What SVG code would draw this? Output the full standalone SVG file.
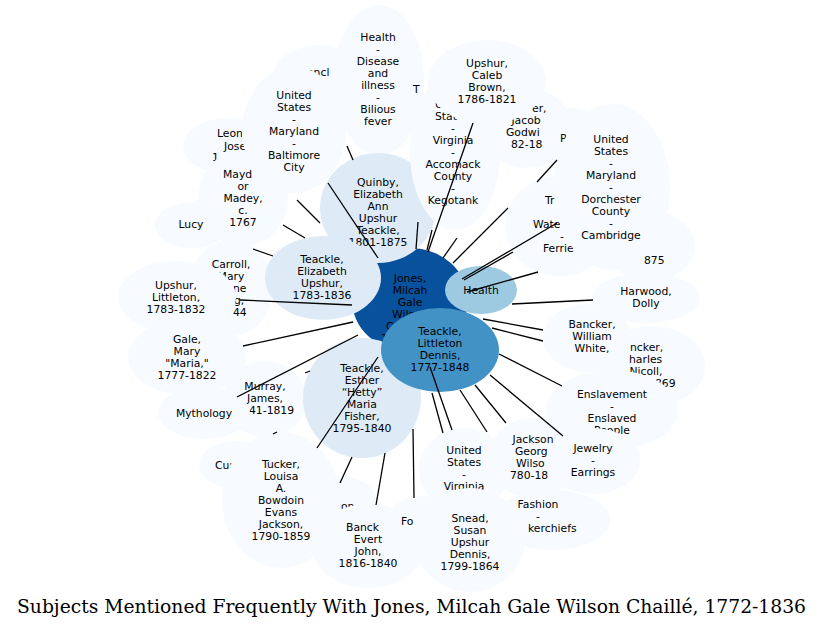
<svg xmlns="http://www.w3.org/2000/svg" width="823" height="629" viewBox="0 0 823 629">
<style>
text{font-family:"DejaVu Sans","Liberation Sans",sans-serif;font-size:10.8px;fill:#000;text-anchor:middle}
text.f{text-anchor:start}
.c0{fill:#f7fbff}.c1{fill:#deebf7}.c2{fill:#9ecae1}.c3{fill:#4292c6}.c4{fill:#08519c}
#edges line{stroke:#000;stroke-width:1.3}
.title{font-family:"DejaVu Serif Condensed","DejaVu Serif","Liberation Serif",serif;font-stretch:condensed;font-size:18px}
</style>
<rect width="823" height="629" fill="#fff"/>
<g id="jones"><ellipse class="c4" cx="410" cy="300" rx="58" ry="52"/>
<text x="410" y="282">Jones,</text><text x="410" y="294">Milcah</text><text x="410" y="306">Gale</text><text class="f" x="392" y="318">Wils</text><text class="f" x="386" y="330">C</text><text class="f" x="381" y="342">1</text></g>
<g id="branch"><ellipse class="c0" cx="318" cy="85" rx="48" ry="40"/><text class="f" x="307" y="76">ancl</text></g>
<g id="bilious"><ellipse class="c0" cx="379" cy="80" rx="45" ry="75"/>
<text x="378" y="41">Health</text><text x="378" y="53">-</text><text x="378" y="65">Disease</text><text x="378" y="77">and</text><text x="378" y="89">illness</text><text x="378" y="101">-</text><text x="378" y="113">Bilious</text><text x="378" y="125">fever</text></g>
<g id="t-frag"><text class="f" x="413" y="93">T</text></g>
<g id="leon"><ellipse class="c0" cx="228" cy="146" rx="45" ry="28"/>
<text class="f" x="217" y="137">Leon</text><text class="f" x="224" y="150">Jose</text><text class="f" x="212" y="161">1</text></g>
<g id="mayday"><ellipse class="c0" cx="243" cy="198" rx="45" ry="48"/>
<text class="f" x="223" y="178">Mayd</text><text x="243" y="190">or</text><text x="243" y="202">Madey,</text><text x="243" y="214">c.</text><text x="243" y="226">1767</text></g>
<g id="baltimore"><ellipse class="c0" cx="294" cy="130" rx="52" ry="63"/>
<text x="294" y="99">United</text><text x="294" y="111">States</text><text x="294" y="123">-</text><text x="294" y="135">Maryland</text><text x="294" y="147">-</text><text x="294" y="159">Baltimore</text><text x="294" y="171">City</text></g>
<g id="lucy"><ellipse class="c0" cx="192" cy="225" rx="37" ry="23"/><text x="191" y="228">Lucy</text></g>
<g id="carroll"><ellipse class="c0" cx="231" cy="288" rx="42" ry="48"/>
<text x="231" y="268">Carroll,</text><text x="231" y="280">Mary</text><text class="f" x="233" y="292">ne</text><text class="f" x="234" y="304">g,</text><text class="f" x="233" y="316">44</text></g>
<g id="upshur-littleton"><ellipse class="c0" cx="177" cy="297" rx="59" ry="36"/>
<text x="176" y="289">Upshur,</text><text x="176" y="301">Littleton,</text><text x="176" y="313">1783-1832</text></g>
<g id="gale"><ellipse class="c0" cx="187" cy="357" rx="59" ry="38"/>
<text x="187" y="343">Gale,</text><text x="187" y="355">Mary</text><text x="187" y="367">"Maria,"</text><text x="187" y="379">1777-1822</text></g>
<g id="murray"><ellipse class="c0" cx="265" cy="399" rx="42" ry="38"/>
<text x="265" y="390">Murray,</text><text x="265" y="402">James,</text><text class="f" x="249" y="414">41-1819</text></g>
<g id="mythology"><ellipse class="c0" cx="204" cy="413" rx="46" ry="26"/><text x="204" y="417">Mythology</text></g>
<g id="cur"><ellipse class="c0" cx="237" cy="465" rx="38" ry="24"/><text class="f" x="215" y="469">Cur</text></g>
<g id="tucker"><ellipse class="c0" cx="281" cy="500" rx="59" ry="68"/>
<text x="281" y="468">Tucker,</text><text x="281" y="480">Louisa</text><text x="281" y="492">A.</text><text x="281" y="504">Bowdoin</text><text x="281" y="516">Evans</text><text x="281" y="528">Jackson,</text><text x="281" y="540">1790-1859</text></g>
<g id="on-frag"><ellipse class="c0" cx="345" cy="512" rx="36" ry="35"/><text class="f" x="341" y="510">on</text></g>
<g id="bancker-evert"><ellipse class="c0" cx="368" cy="546" rx="56" ry="42"/>
<text class="f" x="346" y="531">Banck</text><text x="368" y="543">Evert</text><text x="368" y="555">John,</text><text x="368" y="567">1816-1840</text></g>
<g id="fo-frag"><ellipse class="c0" cx="421" cy="521" rx="33" ry="25"/><text class="f" x="401" y="525">Fo</text></g>
<g id="jackson"><ellipse class="c0" cx="533" cy="458" rx="45" ry="40"/>
<text x="533" y="443">Jackson</text><text class="f" x="515" y="455">Georg</text><text class="f" x="516" y="467">Wilso</text><text class="f" x="510" y="479">780-18</text></g>
<g id="virginia"><ellipse class="c0" cx="464" cy="470" rx="45" ry="42"/>
<text x="464" y="454">United</text><text x="464" y="466">States</text><text x="464" y="478">-</text><text x="464" y="490">Virginia</text></g>
<g id="fashion"><ellipse class="c0" cx="552" cy="520" rx="58" ry="30"/>
<text x="538" y="508">Fashion</text><text x="538" y="520">-</text><text class="f" x="528" y="532">kerchiefs</text></g>
<g id="snead"><ellipse class="c0" cx="470" cy="540" rx="55" ry="52"/>
<text x="470" y="522">Snead,</text><text x="470" y="534">Susan</text><text x="470" y="546">Upshur</text><text x="470" y="558">Dennis,</text><text x="470" y="570">1799-1864</text></g>
<g id="bancker-charles"><ellipse class="c0" cx="652" cy="366" rx="53" ry="40"/>
<text class="f" x="630" y="351">ncker,</text><text class="f" x="629" y="363">harles</text><text x="646" y="375">Nicoll,</text><text class="f" x="655" y="387">869</text></g>
<g id="bancker-william"><ellipse class="c0" cx="587" cy="338" rx="44" ry="34"/>
<text x="592" y="328">Bancker,</text><text x="592" y="340">William</text><text x="592" y="352">White,</text></g>
<g id="harwood"><ellipse class="c0" cx="646" cy="298" rx="54" ry="25"/>
<text x="646" y="295">Harwood,</text><text x="646" y="307">Dolly</text></g>
<g id="enslavement"><ellipse class="c0" cx="612" cy="410" rx="66" ry="40"/>
<text x="612" y="398">Enslavement</text><text x="612" y="410">-</text><text x="612" y="422">Enslaved</text><text x="612" y="434">People</text></g>
<g id="jewelry"><ellipse class="c0" cx="593" cy="461" rx="47" ry="33"/>
<text x="593" y="452">Jewelry</text><text x="593" y="464">-</text><text x="593" y="476">Earrings</text></g>
<g id="n1875"><ellipse class="c0" cx="650" cy="246" rx="45" ry="35"/><text class="f" x="644" y="264">875</text></g>
<g id="travel"><ellipse class="c0" cx="560" cy="226" rx="55" ry="50"/>
<text class="f" x="545" y="204">Tr</text><text class="f" x="533" y="228">Wate</text><text class="f" x="560" y="240">-</text><text class="f" x="543" y="252">Ferrie</text></g>
<g id="bancker-jacob"><ellipse class="c0" cx="527" cy="128" rx="45" ry="40"/>
<text class="f" x="532" y="112">er,</text><text x="526" y="124">Jacob</text><text class="f" x="506" y="136">Godwi</text><text class="f" x="511" y="148">82-18</text></g>
<g id="p-frag"><ellipse class="c0" cx="573" cy="138" rx="30" ry="30"/><text class="f" x="560" y="142">P</text></g>
<g id="dorchester"><ellipse class="c0" cx="612" cy="187" rx="58" ry="83"/>
<text x="611" y="143">United</text><text x="611" y="155">States</text><text x="611" y="167">-</text><text x="611" y="179">Maryland</text><text x="611" y="191">-</text><text x="611" y="203">Dorchester</text><text x="611" y="215">County</text><text x="611" y="227">-</text><text x="611" y="239">Cambridge</text></g>
<g id="quinby"><ellipse class="c1" cx="378" cy="208" rx="58" ry="55"/>
<text x="378" y="186">Quinby,</text><text x="378" y="198">Elizabeth</text><text x="378" y="210">Ann</text><text x="378" y="222">Upshur</text><text x="378" y="234">Teackle,</text><text x="378" y="246">1801-1875</text></g>
<g id="accomack"><ellipse class="c0" cx="455" cy="152" rx="45" ry="78"/>
<text class="f" x="435" y="108">U</text><text class="f" x="435" y="120">Stat</text><text x="453" y="132">-</text><text x="453" y="144">Virginia</text><text x="453" y="156">-</text><text x="453" y="168">Accomack</text><text x="453" y="180">County</text><text x="453" y="192">-</text><text x="453" y="204">Kegotank</text></g>
<g id="upshur-caleb"><ellipse class="c0" cx="487" cy="82" rx="59" ry="42"/>
<text x="487" y="67">Upshur,</text><text x="487" y="79">Caleb</text><text x="487" y="91">Brown,</text><text x="487" y="103">1786-1821</text></g>
<g id="teackle-elizabeth"><ellipse class="c1" cx="323" cy="278" rx="58" ry="42"/>
<text x="322" y="263">Teackle,</text><text x="322" y="275">Elizabeth</text><text x="322" y="287">Upshur,</text><text x="322" y="299">1783-1836</text></g>
<g id="teackle-esther"><ellipse class="c1" cx="362" cy="398" rx="59" ry="60"/>
<text x="362" y="372">Teackle,</text><text x="362" y="384">Esther</text><text x="362" y="396">“Hetty”</text><text x="362" y="408">Maria</text><text x="362" y="420">Fisher,</text><text x="362" y="432">1795-1840</text></g>
<g id="health"><ellipse class="c2" cx="481" cy="290" rx="36" ry="24"/><text x="481" y="294">Health</text></g>
<g id="teackle-littleton"><ellipse class="c3" cx="440" cy="350" rx="59" ry="42"/>
<text x="440" y="335">Teackle,</text><text x="440" y="347">Littleton</text><text x="440" y="359">Dennis,</text><text x="440" y="371">1777-1848</text></g>
<g id="edges">
<line x1="347" y1="146" x2="353" y2="160"/>
<line x1="328" y1="183" x2="378" y2="258"/>
<line x1="297" y1="200" x2="320" y2="223"/>
<line x1="283" y1="225" x2="305" y2="238"/>
<line x1="253" y1="249" x2="273" y2="256"/>
<line x1="240" y1="300" x2="352" y2="305"/>
<line x1="243" y1="346" x2="353" y2="322"/>
<line x1="237" y1="397" x2="358" y2="335"/>
<line x1="305" y1="373" x2="310" y2="371"/>
<line x1="273" y1="434" x2="277" y2="432"/>
<line x1="317" y1="448" x2="378" y2="357"/>
<line x1="340" y1="483" x2="352" y2="457"/>
<line x1="376" y1="505" x2="385" y2="453"/>
<line x1="413" y1="429" x2="414" y2="498"/>
<line x1="430" y1="367" x2="452" y2="430"/>
<line x1="432" y1="393" x2="443" y2="433"/>
<line x1="460" y1="390" x2="487" y2="432"/>
<line x1="475" y1="385" x2="506" y2="423"/>
<line x1="490" y1="375" x2="563" y2="436"/>
<line x1="499" y1="354" x2="562" y2="386"/>
<line x1="492" y1="328" x2="543" y2="341"/>
<line x1="483" y1="319" x2="543" y2="330"/>
<line x1="512" y1="304" x2="593" y2="300"/>
<line x1="467" y1="292" x2="538" y2="272"/>
<line x1="464" y1="280" x2="513" y2="252"/>
<line x1="462" y1="279" x2="557" y2="223"/>
<line x1="453" y1="263" x2="508" y2="208"/>
<line x1="537" y1="182" x2="557" y2="160"/>
<line x1="428" y1="252" x2="473" y2="123"/>
<line x1="427" y1="250" x2="432" y2="230"/>
<line x1="416" y1="249" x2="418" y2="222"/>
<line x1="443" y1="258" x2="457" y2="238"/>
</g>
<text class="title" x="411.5" y="613" textLength="789" lengthAdjust="spacingAndGlyphs">Subjects Mentioned Frequently With Jones, Milcah Gale Wilson Chaillé, 1772-1836</text>
</svg>
